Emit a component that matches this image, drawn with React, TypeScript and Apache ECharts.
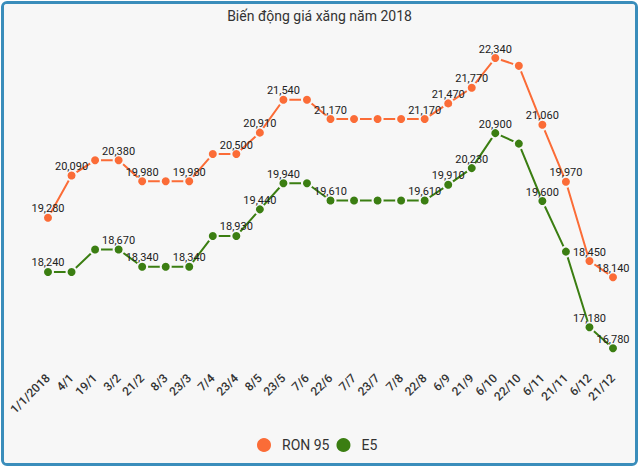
import React, { useEffect, useRef } from "react";
import * as echarts from "echarts";

const categories = ["1/1/2018","4/1","19/1","3/2","21/2","8/3","23/3","7/4","23/4","8/5","23/5","7/6","22/6","7/7","23/7","7/8","22/8","6/9","21/9","6/10","22/10","6/11","21/11","6/12","21/12"];
const ron95 = [19280,20090,20380,20380,19980,19980,19980,20500,20500,20910,21540,21540,21170,21170,21170,21170,21170,21470,21770,22340,22190,21060,19970,18450,18140];
const e5 = [18240,18240,18670,18670,18340,18340,18340,18930,18930,19440,19940,19940,19610,19610,19610,19610,19610,19910,20230,20900,20700,19600,18630,17180,16780];
const ronHiddenLabels = [2,5,7,11,13,14,15,20];
const e5HiddenLabels = [1,2,5,7,11,13,14,15,20,22];

const ORANGE = "#fb6c37";
const GREEN = "#3b7e12";
const BG = "#f7f7f7";

function buildData(vals: number[], hidden: number[]) {
  return vals.map((v, i) => ({ value: v, label: { show: !hidden.includes(i) } }));
}

export default function App() {
  const ref = useRef<HTMLDivElement>(null);
  useEffect(() => {
    document.body.style.margin = "0";
    const chart = echarts.init(ref.current!, null, { renderer: "svg" });
    const labelCfg = {
      show: true,
      position: "inside",
      offset: [0, -9],
      fontSize: 11,
      color: "#222",
      fontFamily: "Roboto, sans-serif",
      formatter: (p: any) => Number(p.value).toLocaleString("en-US"),
    };
    chart.setOption({
      animation: false,
      backgroundColor: BG,
      title: {
        text: "Biến động giá xăng năm 2018",
        left: "center",
        top: 0,
        textStyle: { fontSize: 14, fontWeight: "normal", color: "#333", fontFamily: "Roboto, sans-serif" },
      },
      legend: {
        left: 246,
        bottom: 4,
        icon: "circle",
        itemWidth: 26,
        itemHeight: 16,
        itemGap: 5,
        textStyle: { fontSize: 14, color: "#333", fontFamily: "Roboto, sans-serif" },
        data: ["RON 95", "E5"],
      },
      grid: { left: 44, right: 22, top: 30, bottom: 95, containLabel: false },
      xAxis: {
        type: "category",
        data: categories,
        boundaryGap: false,
        axisLine: { show: false },
        axisTick: { show: false },
        splitLine: { show: false },
        axisLabel: {
          rotate: 45,
          interval: 0,
          margin: 8,
          fontSize: 12,
          fontWeight: 500,
          color: "#333",
          fontFamily: "Roboto, sans-serif",
        },
      },
      yAxis: {
        type: "value",
        min: 16400,
        max: 22800,
        show: false,
        splitLine: { show: false },
      },
      series: [
        {
          name: "RON 95",
          type: "line",
          data: buildData(ron95, ronHiddenLabels),
          symbol: "circle",
          symbolSize: 10,
          lineStyle: { color: ORANGE, width: 2 },
          itemStyle: { color: ORANGE, borderColor: BG, borderWidth: 2 },
          label: labelCfg,
          z: 3,
        },
        {
          name: "E5",
          type: "line",
          data: buildData(e5, e5HiddenLabels),
          symbol: "circle",
          symbolSize: 10,
          lineStyle: { color: GREEN, width: 2 },
          itemStyle: { color: GREEN, borderColor: BG, borderWidth: 2 },
          label: labelCfg,
          z: 2,
        },
      ],
    });
    return () => chart.dispose();
  }, []);
  return (
    <div
      style={{
        position: "absolute",
        left: 1,
        top: 1,
        width: 637,
        height: 465,
        boxSizing: "border-box",
        border: "3px solid #3a8dbb",
        borderRadius: 6,
        background: BG,
        overflow: "hidden",
      }}
    >
      <div ref={ref} style={{ width: 631, height: 459 }} />
    </div>
  );
}
